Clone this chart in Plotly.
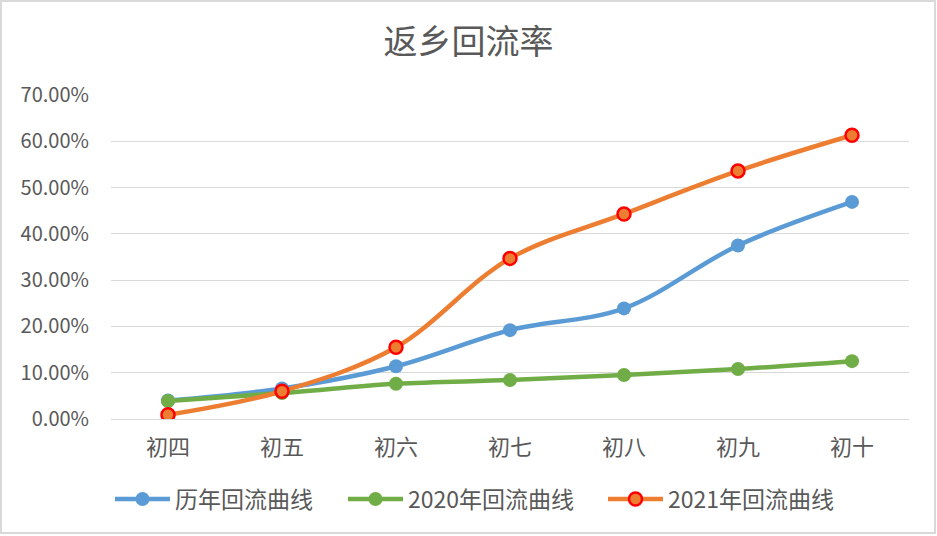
import plotly.graph_objects as go

categories = ["初四", "初五", "初六", "初七", "初八", "初九", "初十"]
hist_vals = [0.040, 0.066, 0.114, 0.192, 0.239, 0.375, 0.469]
y2020_vals = [0.039, 0.056, 0.076, 0.084, 0.095, 0.108, 0.125]
y2021_vals = [0.009, 0.060, 0.155, 0.347, 0.443, 0.536, 0.613]
y_ticks = [0, 0.1, 0.2, 0.3, 0.4, 0.5, 0.6, 0.7]

FONT = "Noto Sans CJK SC"
GREY = "#595959"

# plot area in pixels (page coordinates)
PL, PR, PT, PB = 111, 909, 95, 419
W, H = 937, 536
PW, PH = PR - PL, PB - PT

fig = go.Figure()
fig.add_trace(go.Scatter(
    x=categories, y=hist_vals, name="历年回流曲线", mode="lines+markers",
    line=dict(color="#5B9BD5", width=4.5, shape="spline", smoothing=1.0),
    marker=dict(color="#5B9BD5", size=14, line=dict(width=0)),
    legend="legend",
))
fig.add_trace(go.Scatter(
    x=categories, y=y2020_vals, name="2020年回流曲线", mode="lines+markers",
    line=dict(color="#70AD47", width=4.5, shape="spline", smoothing=1.0),
    marker=dict(color="#70AD47", size=14, line=dict(width=0)),
    legend="legend2",
))
fig.add_trace(go.Scatter(
    x=categories, y=y2021_vals, name="2021年回流曲线", mode="lines+markers",
    line=dict(color="#ED7D31", width=4.5, shape="spline", smoothing=1.0),
    marker=dict(color="#ED7D31", size=13, line=dict(width=2.5, color="#FF0000")),
    legend="legend3",
))


def leg(left_px):
    return dict(orientation="h", x=(left_px - PL) / PW, xanchor="left",
                y=(PB - 499) / PH, yanchor="middle",
                font=dict(family=FONT, size=23, color=GREY), itemwidth=55,
                bgcolor="rgba(0,0,0,0)")


fig.update_layout(
    width=W, height=H,
    margin=dict(l=PL, r=W - PR, t=PT, b=H - PB, autoexpand=False),
    paper_bgcolor="white", plot_bgcolor="white",
    title=dict(text="返乡回流率", x=0.5, xanchor="center", y=1 - 42 / H, yanchor="middle",
               font=dict(family=FONT, size=34, color=GREY)),
    font=dict(family=FONT, color=GREY),
    showlegend=True,
    legend=leg(110),
    legend2=leg(343),
    legend3=leg(603),
    xaxis=dict(showgrid=False, showline=False, zeroline=False, ticks="",
               tickfont=dict(family=FONT, size=22, color=GREY),
               ticklabelstandoff=13,
               range=[-0.5, 6.5]),
    yaxis=dict(range=[0, 0.7], tickvals=y_ticks, tickformat=".2%",
               showgrid=True, gridcolor="#D9D9D9", gridwidth=1.3,
               zeroline=True, zerolinecolor="#D9D9D9", zerolinewidth=1.3,
               showline=False, ticks="", ticklabelstandoff=21,
               tickfont=dict(family=FONT, size=20, color=GREY)),
    shapes=[dict(type="rect", xref="paper", yref="paper",
                 x0=(1 - PL) / PW, x1=(935 - PL) / PW,
                 y0=(PB - 533) / PH, y1=(PB - 1) / PH,
                 line=dict(color="#D9D9D9", width=2), fillcolor="rgba(0,0,0,0)")],
)

fig.write_html("out.html", config={"displayModeBar": False},
               post_script="document.body.style.margin='0';")
